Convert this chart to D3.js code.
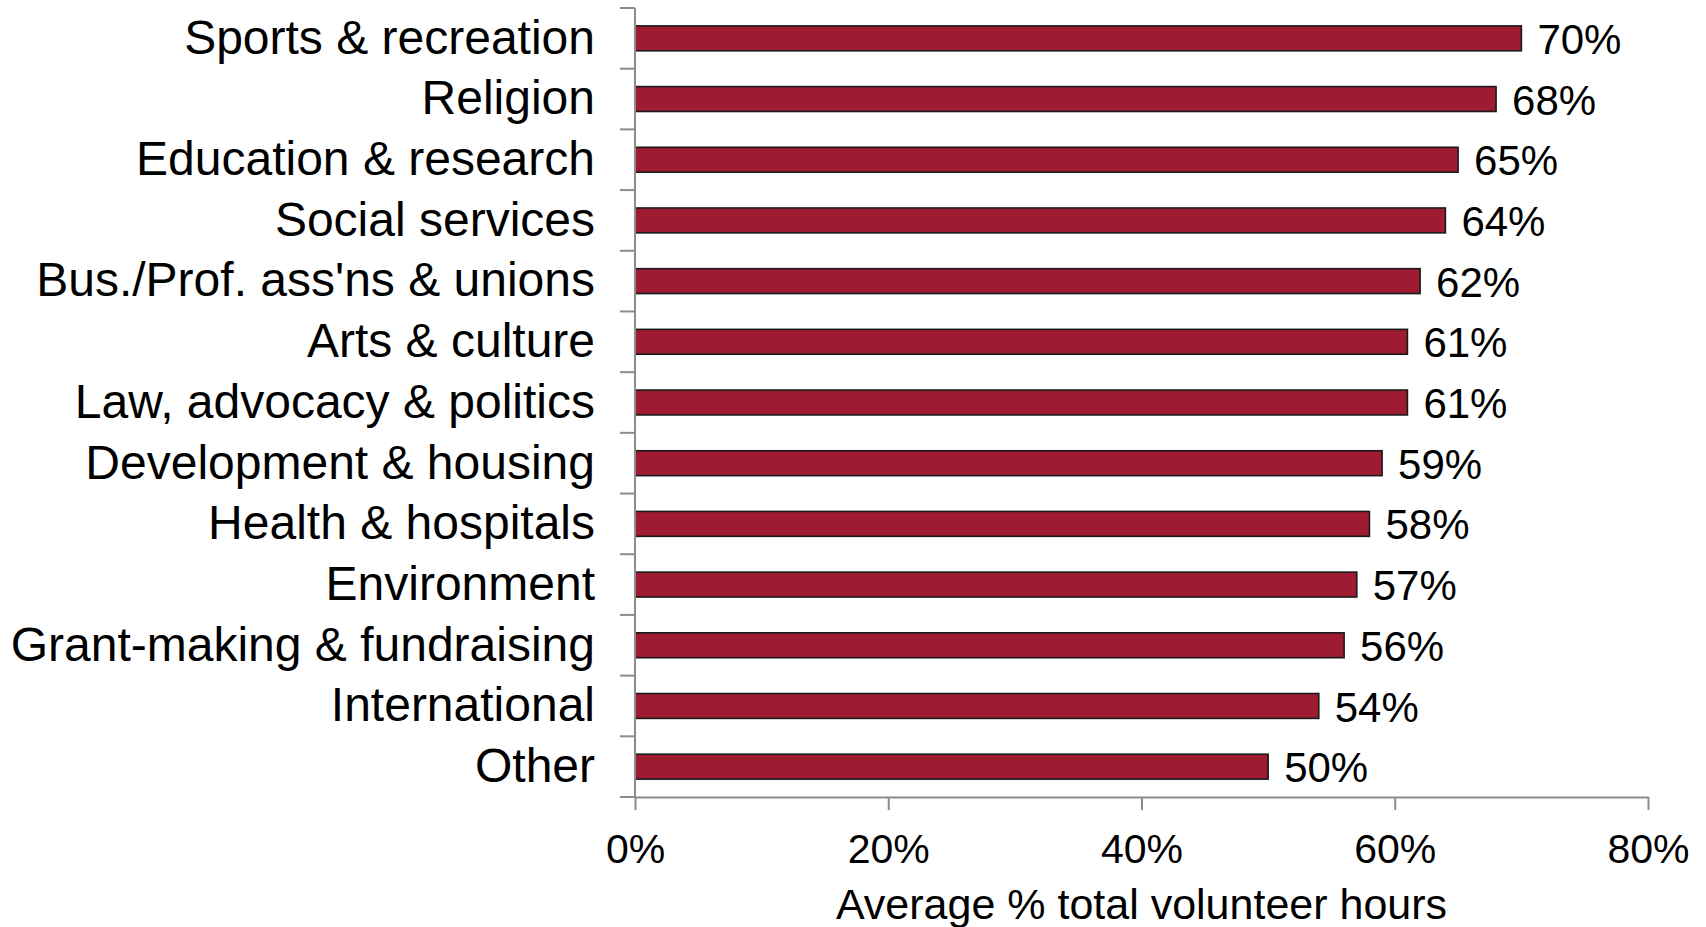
<!DOCTYPE html>
<html>
<head>
<meta charset="utf-8">
<script src="https://cdn.jsdelivr.net/npm/d3@7"></script>
<style>
  html, body { margin: 0; padding: 0; background: #fff; }
  svg { display: block; font-family: "Liberation Sans", Arial, sans-serif; }
</style>
</head>
<body>
<svg id="chart" width="1706" height="927"></svg>
<script>
// Share of total volunteer hours by organisation type
const categories = [
  "Sports & recreation",
  "Religion",
  "Education & research",
  "Social services",
  "Bus./Prof. ass'ns & unions",
  "Arts & culture",
  "Law, advocacy & politics",
  "Development & housing",
  "Health & hospitals",
  "Environment",
  "Grant-making & fundraising",
  "International",
  "Other"
];
const values = [70, 68, 65, 64, 62, 61, 61, 59, 58, 57, 56, 54, 50];
const xTicks = [0, 20, 40, 60, 80];
const axisTitle = "Average % total volunteer hours";

const svg = d3.select("#chart");
const margin = { top: 8, right: 58, bottom: 130, left: 635 };
const W = 1706, H = 927;
const innerW = W - margin.left - margin.right;
const innerH = H - margin.top - margin.bottom;

const g = svg.append("g").attr("transform", `translate(${margin.left},${margin.top})`);

const x = d3.scaleLinear().domain([0, 80]).range([0, innerW]);
const y = d3.scaleBand().domain(categories).range([0, innerH]).paddingInner(0.59).paddingOuter(0.295);

const axisColor = "#8c8c8c";

// bars
g.selectAll("rect.bar")
  .data(categories)
  .join("rect")
  .attr("class", "bar")
  .attr("x", 0)
  .attr("y", d => y(d))
  .attr("width", (d, i) => x(values[i]))
  .attr("height", y.bandwidth())
  .attr("fill", "#9e1b32")
  .attr("stroke", "#1a1a1a")
  .attr("stroke-width", 1.6);

// value labels
g.selectAll("text.val")
  .data(categories)
  .join("text")
  .attr("class", "val")
  .attr("x", (d, i) => x(values[i]) + 16)
  .attr("y", d => y(d) + y.bandwidth() / 2)
  .attr("dy", "0.37em")
  .attr("font-size", 42)
  .attr("fill", "#000")
  .text((d, i) => values[i] + "%");

// y axis: line with tick marks at category boundaries
const step = y.step();
const yAxis = g.append("g").attr("class", "y-axis");
yAxis.append("line")
  .attr("x1", 0).attr("x2", 0)
  .attr("y1", 0).attr("y2", innerH)
  .attr("stroke", axisColor).attr("stroke-width", 2);
yAxis.selectAll("line.tick")
  .data(d3.range(categories.length + 1))
  .join("line")
  .attr("class", "tick")
  .attr("x1", -15).attr("x2", 0)
  .attr("y1", i => i * step).attr("y2", i => i * step)
  .attr("stroke", axisColor).attr("stroke-width", 2);
yAxis.selectAll("text.cat")
  .data(categories)
  .join("text")
  .attr("class", "cat")
  .attr("x", -40)
  .attr("y", d => y(d) + y.bandwidth() / 2)
  .attr("dy", "0.32em")
  .attr("text-anchor", "end")
  .attr("font-size", 48)
  .attr("fill", "#000")
  .text(d => d);

// x axis
const xAxis = g.append("g")
  .attr("transform", `translate(0,${innerH})`)
  .call(d3.axisBottom(x).tickValues(xTicks).tickSize(13).tickSizeOuter(0).tickPadding(24).tickFormat(d => d + "%"));
xAxis.select(".domain").attr("stroke", axisColor).attr("stroke-width", 2);
xAxis.selectAll(".tick line").attr("stroke", axisColor).attr("stroke-width", 2);
xAxis.selectAll(".tick text")
  .attr("font-size", 41)
  .attr("font-family", "'Liberation Sans', Arial, sans-serif")
  .attr("fill", "#000");
// short extension of the x axis line to the left of the y axis
xAxis.append("line")
  .attr("x1", -15).attr("x2", 0).attr("y1", 0).attr("y2", 0)
  .attr("stroke", axisColor).attr("stroke-width", 2);

// axis title
g.append("text")
  .attr("x", innerW / 2)
  .attr("y", innerH + 122)
  .attr("text-anchor", "middle")
  .attr("font-size", 43)
  .attr("fill", "#000")
  .text(axisTitle);
</script>
</body>
</html>
